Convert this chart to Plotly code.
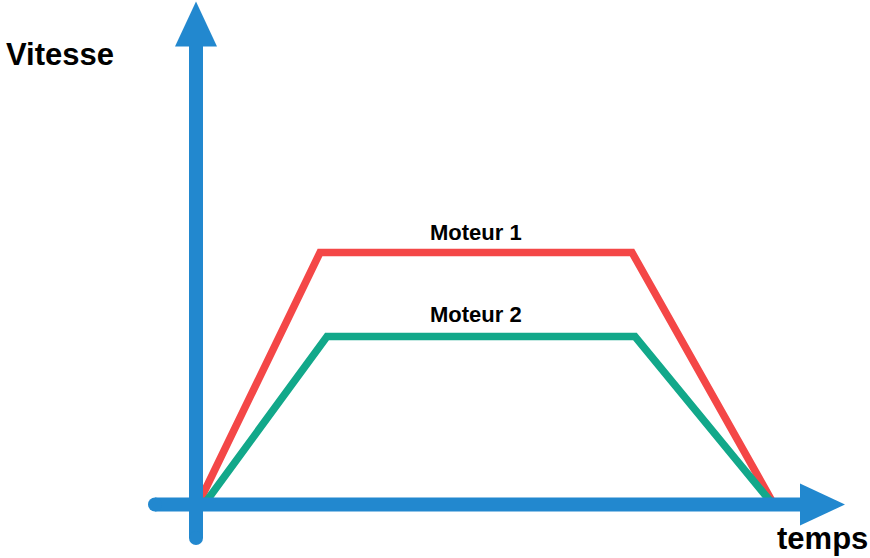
import plotly.graph_objects as go

# Data (time, speed) in arbitrary units
moteur1_t = [0.2, 12.4, 43.6, 57.8]
moteur1_v = [0, 25.2, 25.2, 0]
moteur2_t = [0.8, 13.1, 43.9, 57.7]
moteur2_v = [0, 16.8, 16.8, 0]
series_names = ["Moteur 1", "Moteur 2"]
axis_labels = ["Vitesse", "temps"]

RED = "#F44747"
GREEN = "#12A88A"
BLUE = "#2288CF"
FONT = "Liberation Sans, Arial, sans-serif"

# axis extents
x_min, x_shaft_end, x_tip = -4.1, 60.7, 64.9
y_min, y_shaft_end, y_tip = -3.35, 46.1, 50.3
head_half = 2.1

fig = go.Figure()
fig.add_trace(go.Scatter(x=moteur1_t, y=moteur1_v, mode="lines",
                         line=dict(color=RED, width=7.5), hoverinfo="skip"))
fig.add_trace(go.Scatter(x=moteur2_t, y=moteur2_v, mode="lines",
                         line=dict(color=GREEN, width=7.5), hoverinfo="skip"))

# axis shafts
fig.add_trace(go.Scatter(x=[x_min, x_shaft_end], y=[0, 0], mode="lines",
                         line=dict(color=BLUE, width=14), hoverinfo="skip"))
fig.add_trace(go.Scatter(x=[0, 0], y=[y_min, y_shaft_end], mode="lines",
                         line=dict(color=BLUE, width=14), hoverinfo="skip"))
# rounded ends
fig.add_trace(go.Scatter(x=[x_min, 0], y=[0, y_min], mode="markers",
                         marker=dict(color=BLUE, size=14, line=dict(width=0)),
                         hoverinfo="skip"))
# arrow heads
fig.add_trace(go.Scatter(x=[x_shaft_end - 0.3, x_tip, x_shaft_end - 0.3, x_shaft_end - 0.3],
                         y=[head_half, 0, -head_half, head_half],
                         fill="toself", fillcolor=BLUE, mode="lines",
                         line=dict(color=BLUE, width=0), hoverinfo="skip"))
fig.add_trace(go.Scatter(x=[-head_half, 0, head_half, -head_half],
                         y=[y_shaft_end - 0.3, y_tip, y_shaft_end - 0.3, y_shaft_end - 0.3],
                         fill="toself", fillcolor=BLUE, mode="lines",
                         line=dict(color=BLUE, width=0), hoverinfo="skip"))

# labels
label_x = (moteur1_t[1] + moteur1_t[2]) / 2
fig.add_annotation(x=-13.6, y=45.0, text="<b>" + axis_labels[0] + "</b>", showarrow=False,
                   font=dict(family=FONT, size=31, color="#000000"))
fig.add_annotation(x=62.6, y=-3.4, text="<b>" + axis_labels[1] + "</b>", showarrow=False,
                   font=dict(family=FONT, size=31, color="#000000"))
fig.add_annotation(x=label_x, y=moteur1_v[1] + 2.0,
                   text="<b>" + series_names[0] + "</b>", showarrow=False,
                   font=dict(family=FONT, size=22, color="#000000"))
fig.add_annotation(x=label_x, y=moteur2_v[1] + 2.2,
                   text="<b>" + series_names[1] + "</b>", showarrow=False,
                   font=dict(family=FONT, size=22, color="#000000"))

fig.update_layout(
    width=870, height=558,
    margin=dict(l=0, r=0, t=0, b=0),
    paper_bgcolor="white", plot_bgcolor="white",
    showlegend=False,
    xaxis=dict(range=[-19.6, 67.4], visible=False, fixedrange=True),
    yaxis=dict(range=[-5.35, 50.45], visible=False, fixedrange=True),
)

fig.write_html("out.html", config={"displayModeBar": False},
               post_script="document.body.style.margin='0';document.body.style.overflow='hidden';")
